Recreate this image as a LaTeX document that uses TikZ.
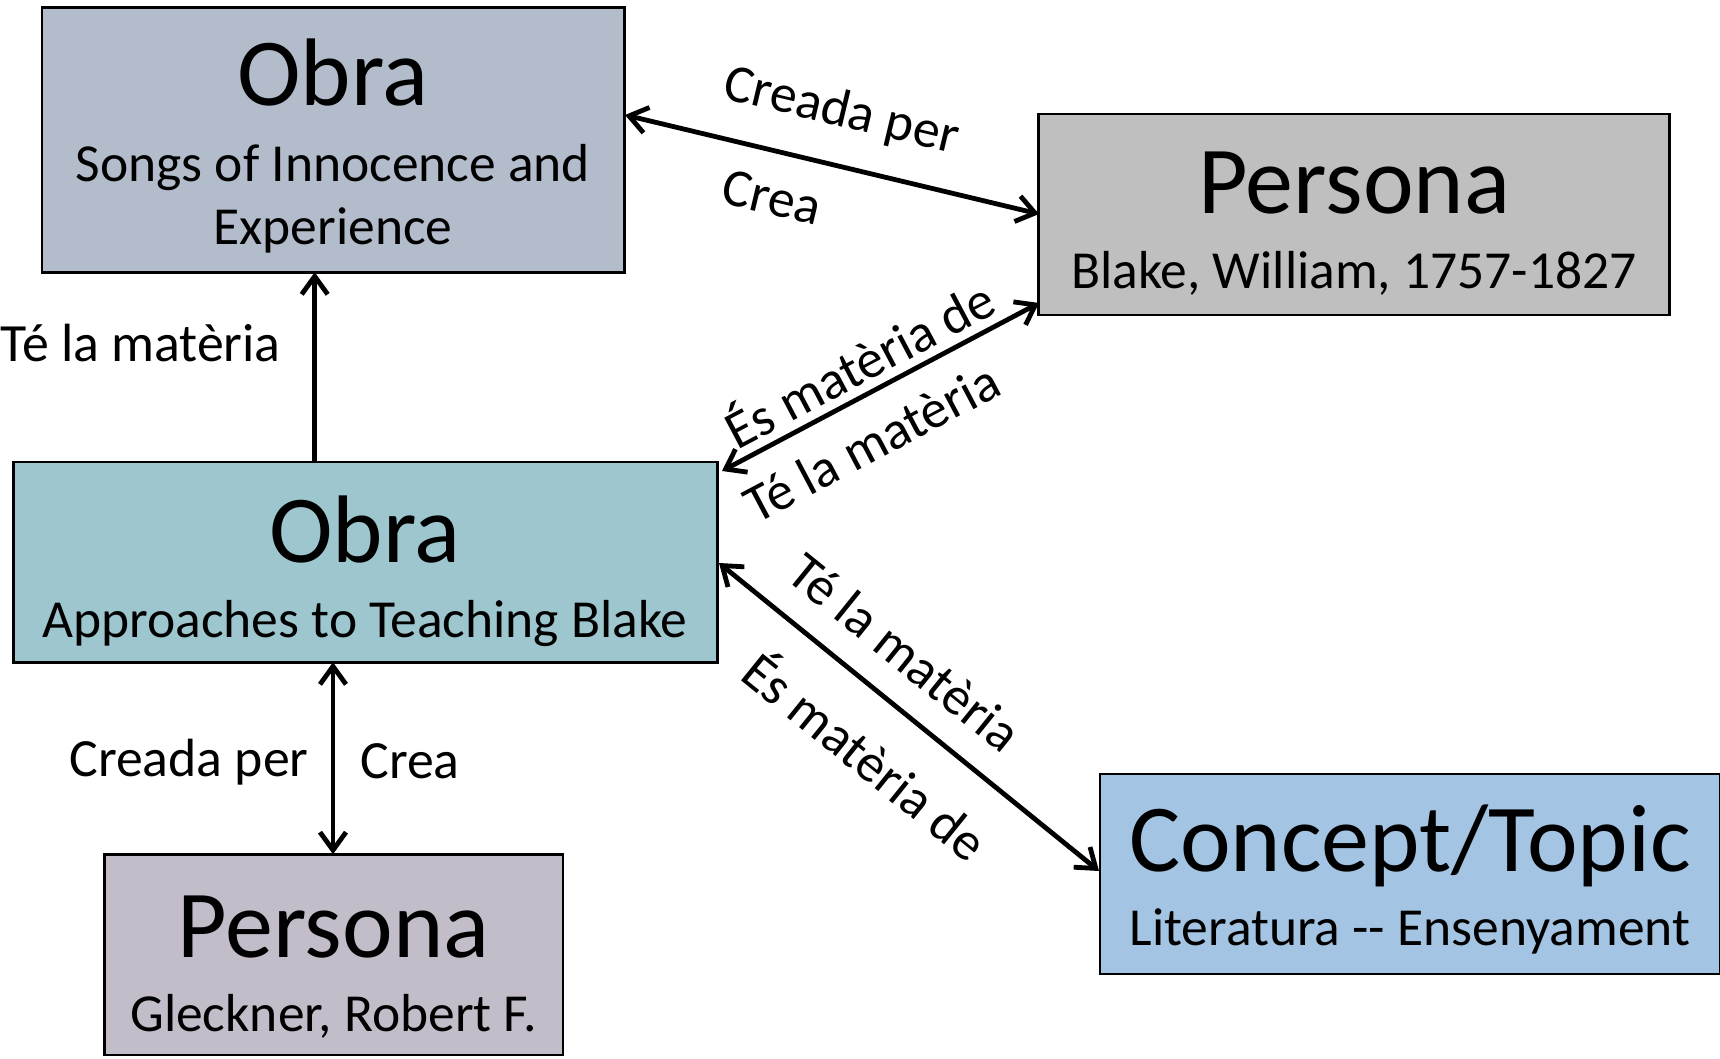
\documentclass[tikz,border=0pt]{standalone}
\usepackage{fontspec}
\setmainfont{Carlito}
\usetikzlibrary{arrows.meta}
\definecolor{cA}{HTML}{B2BCCB}
\definecolor{cB}{HTML}{BFBFBF}
\definecolor{cC}{HTML}{9DC6CE}
\definecolor{cD}{HTML}{C3BDCA}
\definecolor{cE}{HTML}{A3C4E2}
\tikzset{
  box/.style={draw=black, line width=2.5pt, inner sep=0pt, outer sep=0pt},
  ttl/.style={anchor=base, inner sep=0pt, font=\fontsize{96}{110}\selectfont},
  sub/.style={anchor=base, inner sep=0pt, font=\fontsize{53.5}{60}\selectfont},
  lbl/.style={inner sep=0pt, font=\fontsize{53.8}{60}\selectfont},
  conn/.style={line width=4.8pt, black},
  both/.style={conn, {Straight Barb[length=18pt,width=26pt]}-{Straight Barb[length=18pt,width=26pt]}},
  one/.style={conn, -{Straight Barb[length=18pt,width=26pt]}}
}
\begin{document}
\begin{tikzpicture}[x=1pt,y=-1pt]
\useasboundingbox (0,0) rectangle (1720,1059);
% boxes
\node[box, fill=cA, minimum width=582.5pt, minimum height=264.5pt] (A) at (333,140) {};
\node[box, fill=cB, minimum width=631pt, minimum height=201pt] (B) at (1354,214.5) {};
\node[box, fill=cC, minimum width=704pt, minimum height=200.5pt] (C) at (365.3,562) {};
\node[box, fill=cD, minimum width=458.5pt, minimum height=200.5pt] (D) at (333.5,954.5) {};
\node[box, fill=cE, minimum width=620pt, minimum height=200pt] (E) at (1410,874) {};
% texts
\node[ttl] (At) at (333,106) {Obra};
\node[sub] (As1) at (333,181.7) {Songs of Innocence and};
\node[sub] (As2) at (333,245) {Experience};
\node[ttl] (Bt) at (1354,214) {Persona};
\node[sub] (Bs) at (1354,288) {Blake, William, 1757-1827};
\node[ttl] (Ct) at (365,562) {Obra};
\node[sub] (Cs) at (365,637) {Approaches to Teaching Blake};
\node[ttl] (Dt) at (333.5,957) {Persona};
\node[sub] (Ds) at (333.5,1031) {Gleckner, Robert F.};
\node[ttl] (Et) at (1410,871) {Concept/Topic};
\node[sub] (Es) at (1410,945.6) {Literatura {-}{-} Ensenyament};
% connector end points
\coordinate (pA1) at (625,115);
\coordinate (pB1) at (1039,214);
\coordinate (pB2) at (1039,303);
\coordinate (pC2) at (722,471);
\coordinate (pC5) at (719,563);
\coordinate (pE5) at (1099,871);
% connectors
\draw[both] (pA1) -- (pB1);
\draw[both] (pB2) -- (pC2);
\draw[one] (C.north -| 314.7,0) -- (A.south -| 314.7,0);
\draw[both] (C.south -| 333,0) -- (D.north -| 333,0);
\draw[both] (pC5) -- (pE5);
% labels
\node[lbl, rotate=-13.45] (l1a) at (841.4,111.9) {Creada per};
\node[lbl, rotate=-13.45] (l1b) at (772.2,197.4) {Crea};
\node[lbl, rotate=27.9] (l2a) at (858,361.5) {És matèria de};
\node[lbl, rotate=27.9] (l2b) at (871.5,442.5) {Té la matèria};
\node[lbl, anchor=base west] (l3) at (0.5,361.7) {Té la matèria};
\node[lbl, anchor=base] (l4a) at (189,776.6) {Creada per};
\node[lbl, anchor=base] (l4b) at (410,778.6) {Crea};
\node[lbl, rotate=-38.95] (l5a) at (905,652.5) {Té la matèria};
\node[lbl, rotate=-38.95] (l5b) at (867.5,754) {És matèria de};
\end{tikzpicture}
\end{document}
